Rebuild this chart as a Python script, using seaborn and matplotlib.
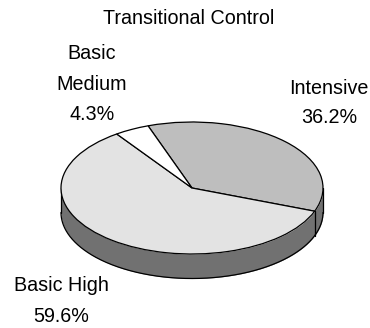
import numpy as np
import matplotlib
matplotlib.use("Agg")
import matplotlib.pyplot as plt
import seaborn as sns

sns.set_theme(style="white")
plt.rcParams['font.family'] = ['Liberation Sans', 'DejaVu Sans']

title = "Transitional Control"
labels = ["Intensive\n36.2%", "Basic High\n59.6%", "Basic\nMedium\n4.3%"]
values = [36.2, 59.6, 4.3]
colors = ["#bebebe", "#e3e3e3", "#ffffff"]

W, H = 370, 328
cx, cy, rx, ry, depth = 192, 188, 131, 66, 24.5
start = 109.6

fig = plt.figure(figsize=(W / 100, H / 100), dpi=100, facecolor="white")
ax = fig.add_axes([0, 0, 1, 1])

# side wall, from the front half of the rim
d = depth / ry
fracs = np.array(values) / sum(values)
sep = start - 360 * fracs[0]
th = np.radians(np.linspace(180, 360, 400))
xs, ys = np.cos(th), np.sin(th)
ax.fill_between(xs, ys, ys - d, color="#717171", lw=0, zorder=1)
ax.plot(xs, ys - d, color="black", lw=0.9, zorder=2)
ax.plot([-1, -1], [0, -d], color="black", lw=0.9, zorder=2)
ax.plot([1, 1], [0, -d], color="black", lw=0.9, zorder=2)
sx, sy = np.cos(np.radians(sep)), np.sin(np.radians(sep))
ax.plot([sx, sx], [sy, sy - d], color="black", lw=0.9, zorder=2)

wedges, _ = ax.pie(values, colors=colors, startangle=start, counterclock=False,
                   radius=1, center=(0, 0), normalize=True,
                   wedgeprops=dict(edgecolor="black", linewidth=0.9, zorder=3))

ax.set_aspect("auto")
ax.set_xlim(-cx / rx, (W - cx) / rx)
ax.set_ylim(-(H - cy) / ry, cy / ry)
ax.axis("off")

def txt(x, y, s, fs=14.2, ls=1.75):
    fig.text(x / W, 1 - y / H, s, ha="center", va="center", fontsize=fs,
             color="black", linespacing=ls)

txt(189, 19, title)
txt(329, 103, labels[0], ls=1.62)
txt(61, 301, labels[1])
txt(92, 84, labels[2], ls=1.78)

fig.savefig("out.png", dpi=100, facecolor="white")
